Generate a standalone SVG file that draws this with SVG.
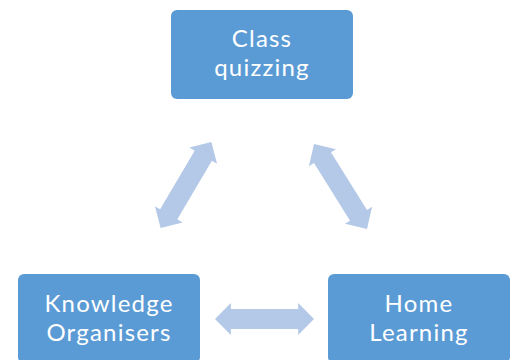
<svg xmlns="http://www.w3.org/2000/svg" width="516" height="360" viewBox="0 0 516 360">
<style>
.box{fill:#5B9BD5;}
.lbl{fill:#FFFFFF;font-family:Lato,"Open Sans",sans-serif;font-size:24px;letter-spacing:1.2px;text-anchor:middle;}
.arr{fill:#B4C9E7;}
</style>
<defs>
<path id="dbl" d="M-50,0 L-34,-16 L-34,-10 L34,-10 L34,-16 L50,0 L34,16 L34,10 L-34,10 L-34,16 Z"/>
</defs>
<rect width="516" height="360" fill="#FFFFFF"/>
<g id="connectors">
<use href="#dbl" class="arr" transform="translate(186,185) rotate(-59.5)"/>
<use href="#dbl" class="arr" transform="translate(340.5,186.5) rotate(58)"/>
<use href="#dbl" class="arr" transform="translate(264.5,319) scale(0.99,1)"/>
</g>
<g id="class-quizzing">
<rect class="box" x="171" y="10" width="182" height="89" rx="6"/>
<text class="lbl"><tspan x="262" y="47">Class</tspan><tspan x="262" y="76">quizzing</tspan></text>
</g>
<g id="knowledge-organisers">
<rect class="box" x="18" y="274" width="182" height="89" rx="6"/>
<text class="lbl"><tspan x="109" y="312">Knowledge</tspan><tspan x="109" y="341">Organisers</tspan></text>
</g>
<g id="home-learning">
<rect class="box" x="328" y="274" width="182" height="89" rx="6"/>
<text class="lbl"><tspan x="419" y="312">Home</tspan><tspan x="419" y="341">Learning</tspan></text>
</g>
</svg>
